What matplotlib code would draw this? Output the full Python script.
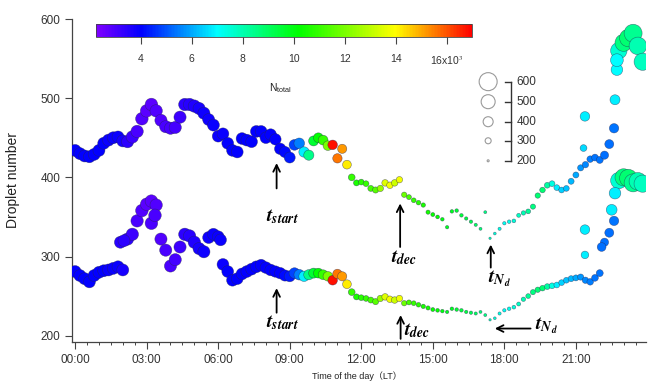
import numpy as np
import matplotlib
matplotlib.use('Agg')
import matplotlib.pyplot as plt
from matplotlib.colors import LinearSegmentedColormap, Normalize
from matplotlib.cm import ScalarMappable

plt.rcParams['font.family'] = ['Liberation Sans', 'Noto Sans CJK SC', 'DejaVu Sans']
plt.rcParams['mathtext.fontset'] = 'stix'

# ---------------- data (hours of day) ----------------
time_h = [0.0, 0.2, 0.4, 0.6, 0.8, 1.0, 1.2, 1.4, 1.6, 1.8,
          2.0, 2.2, 2.4, 2.6, 2.8, 3.0, 3.2, 3.4, 3.6, 3.8,
          4.0, 4.2, 4.4, 4.6, 4.8, 5.0, 5.2, 5.4, 5.6, 5.8,
          6.0, 6.2, 6.4, 6.6, 6.8, 7.0, 7.2, 7.4, 7.6, 7.8,
          8.0, 8.2, 8.4, 8.6, 8.8, 9.0, 9.2, 9.4, 9.6, 9.8,
          10.0, 10.2, 10.4, 10.6, 10.8, 11.0, 11.2, 11.4, 11.6, 11.8,
          12.0, 12.2, 12.4, 12.6, 12.8, 13.0, 13.2, 13.4, 13.6, 13.8,
          14.0, 14.2, 14.4, 14.6, 14.8, 15.0, 15.2, 15.4, 15.6, 15.8,
          16.0, 16.2, 16.4, 16.6, 16.8, 17.0, 17.2, 17.4, 17.6, 17.8,
          18.0, 18.2, 18.4, 18.6, 18.8, 19.0, 19.2, 19.4, 19.6, 19.8,
          20.0, 20.2, 20.4, 20.6, 20.8, 21.0, 21.2, 21.4, 21.6, 21.8,
          22.0, 22.2, 22.4, 22.6, 22.8, 23.0, 23.2, 23.4, 23.6, 23.8]

upper_nd = [434, 430, 427, 426, 429, 434, 443, 447, 450, 451,
            446, 445, 451, 458, 474, 484, 492, 484, 472, 464,
            462, 463, 476, 492, 492, 490, 487, 481, 473, 466,
            452, 455, 443, 434, 432, 449, 447, 445, 458, 458,
            450, 454, 448, 436, 432, 425, 441, 443, 432, 428,
            446, 450, 447, 440, 441, 424, 436, 416, 400, 393,
            394, 392, 386, 384, 386, 393, 390, 393, 397, 378,
            375, 371, 368, 365, 356, 353, 350, 347, 337, 357,
            358, 352, 348, 344, 340, 335, 356, 323, 329, 335,
            342, 344, 345, 352, 355, 357, 363, 377, 384, 390,
            392, 387, 384, 386, 395, 403, 412, 416, 423, 425,
            422, 428, 442, 462, 560, 570, 576, 582, 566, 546]

lower_nd = [281, 276, 272, 268, 276, 280, 282, 283, 285, 287,
            283, 322, 328, 345, 358, 366, 370, 365, 322, 308,
            288, 296, 312, 328, 326, 318, 310, 306, 324, 328,
            325, 290, 281, 270, 272, 278, 281, 284, 287, 289,
            286, 283, 281, 279, 276, 275, 279, 277, 275, 277,
            279, 279, 277, 275, 270, 278, 275, 265, 255, 249,
            248, 247, 245, 243, 247, 249, 246, 245, 247, 241,
            242, 241, 239, 237, 235, 233, 232, 231, 230, 234,
            233, 232, 230, 229, 228, 230, 226, 220, 222, 228,
            232, 234, 236, 240, 246, 250, 255, 258, 260, 262,
            263, 264, 267, 270, 272, 273, 274, 270, 268, 273,
            279, 318, 330, 345, 396, 400, 399, 393, 395, 392]

# N_total (x10^3)
ntotal = [4.0, 4.0, 4.0, 4.0, 4.0, 4.0, 4.0, 3.9, 3.9, 3.9,
          3.7, 3.4, 3.2, 3.0, 2.9, 2.8, 2.8, 2.9, 2.9, 3.0,
          3.0, 3.1, 3.2, 3.4, 3.5, 3.6, 3.7, 3.8, 3.8, 3.9,
          3.9, 3.9, 4.0, 4.0, 4.0, 4.0, 4.0, 4.0, 4.0, 4.0,
          4.0, 4.0, 4.0, 4.0, 4.1, 4.3, 4.8, 5.5, 6.8, 8.5,
          9.6, 10.2, 11.0, 12.0, 16.8, 15.6, 15.2, 14.2, 11.0, 10.6,
          10.8, 11.0, 11.2, 11.5, 12.5, 13.5, 13.8, 13.2, 13.8, 11.8,
          11.2, 11.0, 10.8, 10.6, 10.5, 10.3, 10.2, 10.0, 9.8, 9.8,
          9.6, 9.5, 9.4, 9.2, 9.0, 8.8, 8.6, 8.0, 7.6, 7.4,
          7.2, 7.3, 7.5, 7.8, 8.0, 8.3, 8.6, 8.8, 8.8, 8.2,
          7.4, 6.8, 6.5, 6.3, 6.2, 6.0, 5.8, 5.6, 5.5, 5.4,
          5.4, 5.3, 5.3, 5.4, 7.6, 8.6, 8.8, 8.4, 8.0, 7.8]

# marker-size variable (200-600 scale)
size_var = [450, 450, 450, 450, 450, 450, 450, 450, 450, 450,
            450, 455, 460, 460, 465, 465, 465, 460, 455, 455,
            455, 455, 455, 460, 460, 460, 455, 455, 450, 450,
            445, 445, 445, 445, 445, 445, 445, 445, 445, 445,
            440, 440, 435, 435, 430, 425, 420, 415, 410, 405,
            400, 395, 395, 390, 390, 385, 380, 370, 320, 300,
            295, 295, 300, 305, 310, 315, 315, 315, 310, 285,
            275, 270, 265, 260, 255, 250, 245, 240, 235, 240,
            240, 240, 235, 235, 230, 225, 225, 210, 220, 230,
            235, 240, 245, 250, 260, 270, 280, 285, 290, 295,
            295, 295, 295, 295, 300, 300, 305, 310, 315, 320,
            325, 355, 375, 385, 560, 580, 590, 600, 590, 580]

# scattered extra points
extra_up_time = [21.32, 21.38, 22.64, 22.72, 22.72]
extra_up_nd = [437, 477, 498, 536, 548]
extra_up_ntotal = [6.6, 6.8, 6.8, 7.0, 7.0]
extra_up_size = [320, 390, 400, 440, 470]

extra_lo_time = [1.9, 2.05, 3.2, 3.35, 6.1, 21.38, 21.38, 22.08, 22.5, 22.64]
extra_lo_nd = [318, 320, 342, 352, 321, 302, 334, 312, 359, 380]
extra_lo_ntotal = [3.5, 3.4, 3.0, 3.0, 3.9, 6.8, 6.8, 5.3, 6.8, 6.8]
extra_lo_size = [450, 450, 465, 465, 445, 340, 390, 370, 420, 440]

legend_sizes = [600, 500, 400, 300, 200]
cbar_ticks = [4, 6, 8, 10, 12, 14, 16]
cbar_ticklabels = ['4', '6', '8', '10', '12', '14', '16x10$^3$']
x_ticks = [0, 3, 6, 9, 12, 15, 18, 21]
x_ticklabels = ['00:00', '03:00', '06:00', '09:00', '12:00', '15:00', '18:00', '21:00']
y_ticks = [200, 300, 400, 500, 600]

# ---------------- styling ----------------
nmin, nmax = 2.24, 17.0
def tp(v):
    return (v - nmin) / (nmax - nmin)
cmap = LinearSegmentedColormap.from_list('igor_rainbow', [
    (0.0, (0.5, 0.0, 1.0)), (tp(4.0), (0.0, 0.0, 1.0)), (tp(7.0), (0.0, 1.0, 1.0)),
    (tp(10.2), (0.0, 1.0, 0.0)), (tp(14.0), (1.0, 1.0, 0.0)), (1.0, (1.0, 0.0, 0.0))])
norm = Normalize(nmin, nmax)

def msize(v):
    d_px = 2 + (np.asarray(v, float) - 200) * 0.04
    return (d_px * 0.72) ** 2

fig = plt.figure(figsize=(6.53, 3.82), dpi=100)
ax = fig.add_axes([72 / 653, 1 - 342 / 382, 574 / 653, 323 / 382])

edge = (0.15, 0.15, 0.3, 0.6)
for tt, yy, nn, ss in [(time_h, upper_nd, ntotal, size_var),
                       (extra_up_time, extra_up_nd, extra_up_ntotal, extra_up_size),
                       (time_h, lower_nd, ntotal, size_var),
                       (extra_lo_time, extra_lo_nd, extra_lo_ntotal, extra_lo_size)]:
    ax.scatter(tt, yy, c=nn, cmap=cmap, norm=norm, s=msize(ss),
               edgecolors=edge, linewidths=0.4, zorder=3)

ax.set_xlim(-0.13, 23.94)
ax.set_ylim(192, 600)
ax.set_xticks(x_ticks)
ax.set_xticklabels(x_ticklabels)
ax.set_xticks(np.arange(0, 24, 0.5), minor=True)
ax.set_yticks(y_ticks)
for s in ['top', 'right']:
    ax.spines[s].set_visible(False)
for s in ['left', 'bottom']:
    ax.spines[s].set_color('#444444')
    ax.spines[s].set_linewidth(0.9)
ax.tick_params(axis='both', which='major', direction='out', length=5, width=0.8,
               colors='#444444', labelcolor='#333333', labelsize=8.5)
ax.tick_params(axis='x', which='minor', direction='out', length=2.5, width=0.7, colors='#444444')
ax.set_ylabel('Droplet number', fontsize=10, color='#222222')
ax.yaxis.set_label_coords((20 - 72) / 574, 0.5)
ax.set_xlabel('Time of the day（LT）', fontsize=6.5, color='#222222', va='center')
ax.xaxis.set_label_coords((357 - 72) / 574, (342 - 376) / 323)

# ---------------- annotations ----------------
arrow = dict(arrowstyle='->', lw=1.3, color='k', mutation_scale=12, shrinkA=0, shrinkB=0)
tfs = 14
def lab(x, y, s):
    ax.text(x, y, s, fontsize=tfs, ha='center', va='center', color='k', zorder=5)

ax.annotate('', xy=(8.45, 418), xytext=(8.45, 386), arrowprops=arrow)
lab(8.7, 350, r'$\mathbfit{t}_{\mathbfit{start}}$')
ax.annotate('', xy=(8.45, 260), xytext=(8.45, 229), arrowprops=arrow)
lab(8.7, 217, r'$\mathbfit{t}_{\mathbfit{start}}$')
ax.annotate('', xy=(13.63, 367), xytext=(13.63, 312), arrowprops=arrow)
lab(13.8, 298, r'$\mathbfit{t}_{\mathbfit{dec}}$')
ax.annotate('', xy=(17.43, 315), xytext=(17.43, 286), arrowprops=arrow)
lab(17.8, 272, r'$\mathbfit{t}_{\mathbfit{N_d}}$')
ax.annotate('', xy=(13.65, 226), xytext=(13.65, 196), arrowprops=arrow)
lab(14.35, 206, r'$\mathbfit{t}_{\mathbfit{dec}}$')
ax.annotate('', xy=(17.6, 209), xytext=(19.1, 209), arrowprops=arrow)
lab(19.75, 212, r'$\mathbfit{t}_{\mathbfit{N_d}}$')

# ---------------- size legend ----------------
leg_y = [0.806, 0.744, 0.682, 0.623, 0.561]
ax.scatter([0.725] * 5, leg_y, s=msize(legend_sizes), transform=ax.transAxes,
           facecolors='white', edgecolors='#9a9a9a', linewidths=0.8, zorder=4, clip_on=False)
ax.plot([0.764, 0.764], [leg_y[-1], leg_y[0]], transform=ax.transAxes, color='#333333', lw=1.0)
for yy, lv in zip(leg_y, legend_sizes):
    ax.plot([0.755, 0.764], [yy, yy], transform=ax.transAxes, color='#333333', lw=1.0)
    ax.text(0.774, yy, str(lv), transform=ax.transAxes, fontsize=8.5, va='center',
            ha='left', color='#333333')

# ---------------- colorbar ----------------
cax = fig.add_axes([96 / 653, 1 - 37 / 382, 376 / 653, 13 / 382])
cb = fig.colorbar(ScalarMappable(norm=norm, cmap=cmap), cax=cax, orientation='horizontal')
cb.set_ticks(cbar_ticks)
cb.set_ticklabels(cbar_ticklabels)
cb.outline.set_linewidth(0.6)
cb.outline.set_edgecolor('#444444')
cax.tick_params(length=5, width=0.8, colors='#444444', labelcolor='#333333',
                labelsize=7.5, pad=7)
fig.text(280 / 653, 1 - 88 / 382, r'N$_{\mathregular{total}}$', fontsize=7.5,
         ha='center', va='center', color='#222222')

fig.savefig('out.png', dpi=100)
